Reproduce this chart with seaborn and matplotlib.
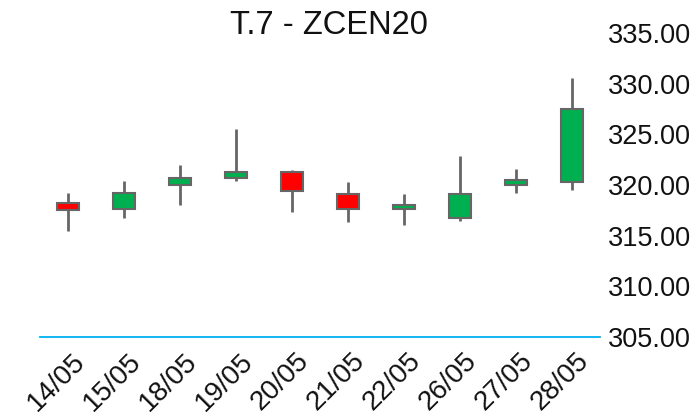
import numpy as np
import pandas as pd
import seaborn as sns
import matplotlib.pyplot as plt
from matplotlib.transforms import ScaledTranslation

# Daily candles
dates = ['14/05', '15/05', '18/05', '19/05', '20/05', '21/05', '22/05', '26/05', '27/05', '28/05']
open_ = [318.27, 317.68, 320.04, 320.67, 321.29, 319.16, 317.64, 316.72, 320.00, 320.27]
close = [317.51, 319.22, 320.73, 321.29, 319.45, 317.64, 318.00, 319.09, 320.47, 327.46]
high = [319.22, 320.40, 321.95, 325.49, 321.52, 320.27, 319.09, 322.86, 321.62, 330.59]
low = [315.47, 316.75, 318.00, 320.40, 317.29, 316.33, 316.06, 316.46, 319.22, 319.48]
y_ticks = [305, 310, 315, 320, 325, 330, 335]

df = pd.DataFrame({'date': dates, 'open': open_, 'close': close, 'high': high, 'low': low})
df['bottom'] = df[['open', 'close']].min(axis=1)
df['body'] = (df['close'] - df['open']).abs()
colors = np.where(df['close'] >= df['open'], '#00B050', '#FF0000')

sns.set_style('white')
plt.rcParams['font.family'] = ['Liberation Sans', 'DejaVu Sans']

fig = plt.figure(figsize=(6.97, 4.18), dpi=100)
ax = fig.add_axes([40 / 697, 81 / 418, 560 / 697, 304 / 418])

# wicks
ax.vlines(np.arange(len(df)), df['low'], df['high'], color='#666666', linewidth=2, zorder=1)

# bodies (color given so seaborn doesn't probe ax.bar with the bottom array)
sns.barplot(data=df, x='date', y='body', bottom=df['bottom'].values, width=0.41,
            color='#00B050', saturation=1, edgecolor='#666666', linewidth=1.5,
            ax=ax, zorder=2)
for patch, c in zip(ax.patches, colors):
    patch.set_facecolor(c)

ax.set_xlim(-0.5, len(df) - 0.5)
ax.set_ylim(305, 335)
ax.set_yticks(y_ticks)
ax.set_yticklabels([f'{v:.2f}' for v in y_ticks])
ax.yaxis.tick_right()
ax.tick_params(axis='y', length=0, pad=6, labelsize=19.5, labelcolor='#111111')
ax.tick_params(axis='x', length=0, pad=8, labelsize=20, labelcolor='#111111')
shift = ScaledTranslation(4 / 100, 0, fig.dpi_scale_trans)
for lbl in ax.get_xticklabels():
    lbl.set_rotation(45)
    lbl.set_ha('right')
    lbl.set_va('top')
    lbl.set_rotation_mode('anchor')
    lbl.set_transform(lbl.get_transform() + shift)
ax.set_xlabel('')
ax.set_ylabel('')

for s in ['top', 'left', 'right']:
    ax.spines[s].set_visible(False)
ax.spines['bottom'].set_color('#00B0F0')
ax.spines['bottom'].set_linewidth(1.3)

fig.text(329 / 697, 1 - 25 / 418, 'T.7 - ZCEN20', ha='center', va='center', fontsize=23.5, color='#111111')

fig.savefig('out.png', dpi=100)
